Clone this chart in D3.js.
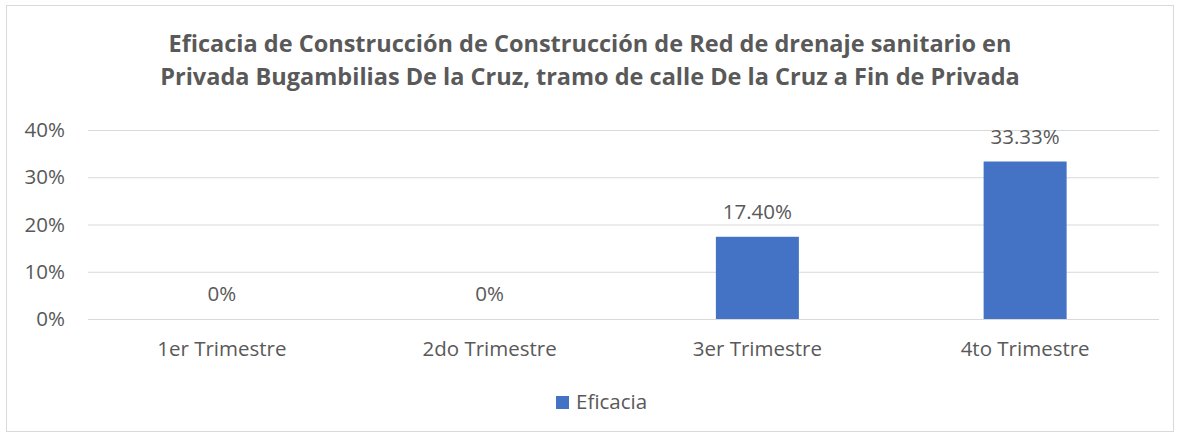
<!DOCTYPE html>
<html>
<head>
<meta charset="utf-8">
<script src="https://cdn.jsdelivr.net/npm/d3@7"></script>
<style>
  body { margin: 0; background: #fff; }
  svg text { font-family: "Open Sans", sans-serif; fill: #595959; }
</style>
</head>
<body>
<svg id="chart" width="1180" height="436"></svg>
<script>
const categories = ["1er Trimestre", "2do Trimestre", "3er Trimestre", "4to Trimestre"];
const values = [0, 0, 0.174, 0.3333];
const valueLabels = ["0%", "0%", "17.40%", "33.33%"];
const yTicks = [0, 0.1, 0.2, 0.3, 0.4];
const seriesName = "Eficacia";
const titleLines = [
  "Eficacia de Construcción de Construcción de Red de drenaje sanitario en",
  "Privada Bugambilias De la Cruz, tramo de calle De la Cruz a Fin de Privada"
];

const margin = { top: 130, right: 21, bottom: 117, left: 88 },
  width = 1180 - margin.left - margin.right,
  height = 436 - margin.top - margin.bottom;

const svg = d3.select("#chart");

// outer border
svg.append("rect")
  .attr("x", 6.5).attr("y", 5.5)
  .attr("width", 1167).attr("height", 426)
  .attr("fill", "#fff").attr("stroke", "#d9d9d9");

// title
svg.append("text")
  .attr("x", 590).attr("y", 52)
  .attr("text-anchor", "middle")
  .style("font-size", "23.5px").style("font-weight", "bold")
  .selectAll("tspan").data(titleLines).enter().append("tspan")
  .attr("x", 590).attr("dy", (d, i) => i === 0 ? 0 : 33)
  .text(d => d);

const g = svg.append("g")
  .attr("transform", "translate(" + margin.left + "," + margin.top + ")");

const x = d3.scaleBand()
  .domain(categories)
  .range([0, width])
  .paddingInner(0.69)
  .paddingOuter(0.345);

const y = d3.scaleLinear()
  .domain([0, 0.4])
  .range([height, 0]);

// gridlines
g.append("g")
  .selectAll("line").data(yTicks).enter().append("line")
  .attr("x1", 0).attr("x2", width)
  .attr("y1", d => y(d) + 0.5).attr("y2", d => y(d) + 0.5)
  .attr("stroke", "#d9d9d9").attr("stroke-width", 1.2);

// y axis
const yAxis = g.append("g")
  .call(d3.axisLeft(y).tickValues(yTicks).tickFormat(d3.format(".0%")).tickSize(0).tickPadding(23));
yAxis.select(".domain").remove();
yAxis.selectAll("text").style("font-size", "20.5px").attr("fill", "#595959");

// x axis
const xAxis = g.append("g")
  .attr("transform", "translate(0," + height + ")")
  .call(d3.axisBottom(x).tickSize(0).tickPadding(22));
xAxis.select(".domain").remove();
xAxis.selectAll("text").style("font-size", "20.5px").attr("fill", "#595959");

// bars
g.selectAll(".bar")
  .data(values).enter().append("rect")
  .attr("class", "bar")
  .attr("x", (d, i) => x(categories[i]))
  .attr("width", x.bandwidth())
  .attr("y", d => y(d))
  .attr("height", d => height - y(d))
  .attr("fill", "#4472c4");

// data labels
g.selectAll(".lbl")
  .data(values).enter().append("text")
  .attr("class", "lbl")
  .attr("x", (d, i) => x(categories[i]) + x.bandwidth() / 2)
  .attr("y", d => y(d) - 18)
  .attr("text-anchor", "middle")
  .style("font-size", "20.5px")
  .text((d, i) => valueLabels[i]);

// legend
const legend = svg.append("g").attr("transform", "translate(556,396)");
legend.append("rect").attr("width", 13).attr("height", 13).attr("fill", "#4472c4");
legend.append("text").attr("x", 20).attr("y", 13).style("font-size", "20.5px").text(seriesName);
</script>
</body>
</html>
